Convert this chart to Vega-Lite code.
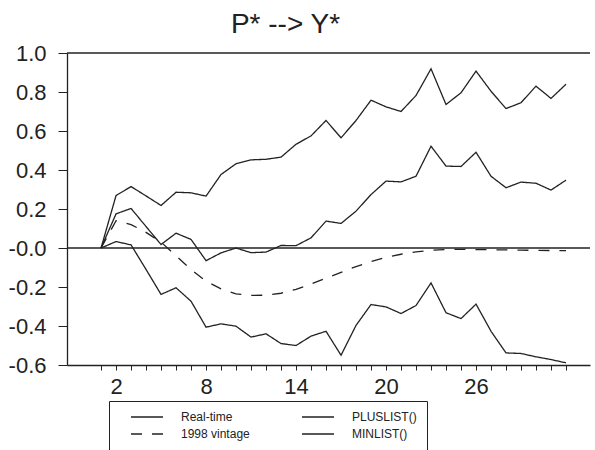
{
  "$schema": "https://vega.github.io/schema/vega-lite/v6.json",
  "width": 523,
  "height": 312,
  "autosize": {"type": "none"},
  "padding": {"left": 67, "top": 53, "right": 5, "bottom": 85},
  "background": "white",
  "title": {"text": "P* --> Y*", "fontSize": 28, "font": "Liberation Sans", "fontWeight": "normal", "color": "#222", "anchor": "middle", "dx": -43, "offset": 3},
  "config": {
    "view": {"stroke": null},
    "font": "Liberation Sans",
    "axisY": {"grid": false, "tickSize": 9, "tickColor": "#222", "domainColor": "#222", "domainWidth": 1.3,
      "labelFontSize": 22, "labelFont": "Liberation Sans", "labelColor": "#222", "labelPadding": 12, "labelOverlap": false, "labelFlush": false},
    "legend": {
      "orient": "none", "legendX": 42, "legendY": 348, "columns": 2, "columnPadding": 40, "rowPadding": 5, "padding": 10,
      "strokeColor": "#222", "fillColor": "white",
      "symbolType": "M-4,0H4", "symbolSize": 64, "symbolOffset": 22, "labelOffset": 28,
      "symbolStrokeColor": "#222", "symbolStrokeWidth": 1.3, "symbolFillColor": "transparent",
      "labelFont": "Liberation Sans", "labelFontSize": 12, "labelColor": "#222", "labelLimit": 300, "labelAlign": "left"
    }
  },
  "layer": [
    {
      "data": {"values": [{"ref": 0}, {"ref": 1}]},
      "mark": {"type": "rule", "color": "#222", "strokeWidth": 1.3},
      "encoding": {"y": {"field": "ref", "type": "quantitative", "scale": {"domain": [-0.6, 1.0], "nice": false, "zero": false},
        "axis": {"title": null, "values": [-0.6,-0.4,-0.2,0,0.2,0.4,0.6,0.8,1.0],
            "labelExpr": "datum.value == 0 ? '-0.0' : (datum.value < 0 ? '-' : '') + format(abs(datum.value), '.1f')"}}}
    },
    {
      "data": {"values": [
        {"t":1,"s":"Real-time","v":0},{"t":2,"s":"Real-time","v":0.175},{"t":3,"s":"Real-time","v":0.203},{"t":4,"s":"Real-time","v":0.11},{"t":5,"s":"Real-time","v":0.018},{"t":6,"s":"Real-time","v":0.076},{"t":7,"s":"Real-time","v":0.044},{"t":8,"s":"Real-time","v":-0.065},{"t":9,"s":"Real-time","v":-0.025},{"t":10,"s":"Real-time","v":0.0},{"t":11,"s":"Real-time","v":-0.024},{"t":12,"s":"Real-time","v":-0.021},{"t":13,"s":"Real-time","v":0.013},{"t":14,"s":"Real-time","v":0.012},{"t":15,"s":"Real-time","v":0.052},{"t":16,"s":"Real-time","v":0.138},{"t":17,"s":"Real-time","v":0.126},{"t":18,"s":"Real-time","v":0.189},{"t":19,"s":"Real-time","v":0.274},{"t":20,"s":"Real-time","v":0.343},{"t":21,"s":"Real-time","v":0.339},{"t":22,"s":"Real-time","v":0.368},{"t":23,"s":"Real-time","v":0.522},{"t":24,"s":"Real-time","v":0.42},{"t":25,"s":"Real-time","v":0.418},{"t":26,"s":"Real-time","v":0.491},{"t":27,"s":"Real-time","v":0.368},{"t":28,"s":"Real-time","v":0.309},{"t":29,"s":"Real-time","v":0.338},{"t":30,"s":"Real-time","v":0.332},{"t":31,"s":"Real-time","v":0.297},{"t":32,"s":"Real-time","v":0.348},
        {"t":1,"s":"PLUSLIST()","v":0},{"t":2,"s":"PLUSLIST()","v":0.269},{"t":3,"s":"PLUSLIST()","v":0.315},{"t":4,"s":"PLUSLIST()","v":0.267},{"t":5,"s":"PLUSLIST()","v":0.218},{"t":6,"s":"PLUSLIST()","v":0.286},{"t":7,"s":"PLUSLIST()","v":0.283},{"t":8,"s":"PLUSLIST()","v":0.266},{"t":9,"s":"PLUSLIST()","v":0.377},{"t":10,"s":"PLUSLIST()","v":0.432},{"t":11,"s":"PLUSLIST()","v":0.452},{"t":12,"s":"PLUSLIST()","v":0.455},{"t":13,"s":"PLUSLIST()","v":0.466},{"t":14,"s":"PLUSLIST()","v":0.532},{"t":15,"s":"PLUSLIST()","v":0.575},{"t":16,"s":"PLUSLIST()","v":0.654},{"t":17,"s":"PLUSLIST()","v":0.565},{"t":18,"s":"PLUSLIST()","v":0.654},{"t":19,"s":"PLUSLIST()","v":0.758},{"t":20,"s":"PLUSLIST()","v":0.724},{"t":21,"s":"PLUSLIST()","v":0.7},{"t":22,"s":"PLUSLIST()","v":0.782},{"t":23,"s":"PLUSLIST()","v":0.919},{"t":24,"s":"PLUSLIST()","v":0.736},{"t":25,"s":"PLUSLIST()","v":0.796},{"t":26,"s":"PLUSLIST()","v":0.907},{"t":27,"s":"PLUSLIST()","v":0.804},{"t":28,"s":"PLUSLIST()","v":0.715},{"t":29,"s":"PLUSLIST()","v":0.745},{"t":30,"s":"PLUSLIST()","v":0.83},{"t":31,"s":"PLUSLIST()","v":0.767},{"t":32,"s":"PLUSLIST()","v":0.84},
        {"t":1,"s":"1998 vintage","v":0},{"t":2,"s":"1998 vintage","v":0.14},{"t":3,"s":"1998 vintage","v":0.12},{"t":4,"s":"1998 vintage","v":0.08},{"t":5,"s":"1998 vintage","v":0.03},{"t":6,"s":"1998 vintage","v":-0.04},{"t":7,"s":"1998 vintage","v":-0.11},{"t":8,"s":"1998 vintage","v":-0.17},{"t":9,"s":"1998 vintage","v":-0.21},{"t":10,"s":"1998 vintage","v":-0.235},{"t":11,"s":"1998 vintage","v":-0.243},{"t":12,"s":"1998 vintage","v":-0.242},{"t":13,"s":"1998 vintage","v":-0.232},{"t":14,"s":"1998 vintage","v":-0.212},{"t":15,"s":"1998 vintage","v":-0.185},{"t":16,"s":"1998 vintage","v":-0.155},{"t":17,"s":"1998 vintage","v":-0.125},{"t":18,"s":"1998 vintage","v":-0.095},{"t":19,"s":"1998 vintage","v":-0.07},{"t":20,"s":"1998 vintage","v":-0.048},{"t":21,"s":"1998 vintage","v":-0.032},{"t":22,"s":"1998 vintage","v":-0.02},{"t":23,"s":"1998 vintage","v":-0.012},{"t":24,"s":"1998 vintage","v":-0.008},{"t":25,"s":"1998 vintage","v":-0.007},{"t":26,"s":"1998 vintage","v":-0.008},{"t":27,"s":"1998 vintage","v":-0.009},{"t":28,"s":"1998 vintage","v":-0.01},{"t":29,"s":"1998 vintage","v":-0.011},{"t":30,"s":"1998 vintage","v":-0.012},{"t":31,"s":"1998 vintage","v":-0.013},{"t":32,"s":"1998 vintage","v":-0.013},
        {"t":1,"s":"MINLIST()","v":0},{"t":2,"s":"MINLIST()","v":0.033},{"t":3,"s":"MINLIST()","v":0.016},{"t":4,"s":"MINLIST()","v":-0.11},{"t":5,"s":"MINLIST()","v":-0.238},{"t":6,"s":"MINLIST()","v":-0.204},{"t":7,"s":"MINLIST()","v":-0.273},{"t":8,"s":"MINLIST()","v":-0.406},{"t":9,"s":"MINLIST()","v":-0.389},{"t":10,"s":"MINLIST()","v":-0.401},{"t":11,"s":"MINLIST()","v":-0.457},{"t":12,"s":"MINLIST()","v":-0.44},{"t":13,"s":"MINLIST()","v":-0.49},{"t":14,"s":"MINLIST()","v":-0.5},{"t":15,"s":"MINLIST()","v":-0.452},{"t":16,"s":"MINLIST()","v":-0.427},{"t":17,"s":"MINLIST()","v":-0.55},{"t":18,"s":"MINLIST()","v":-0.397},{"t":19,"s":"MINLIST()","v":-0.29},{"t":20,"s":"MINLIST()","v":-0.302},{"t":21,"s":"MINLIST()","v":-0.336},{"t":22,"s":"MINLIST()","v":-0.295},{"t":23,"s":"MINLIST()","v":-0.179},{"t":24,"s":"MINLIST()","v":-0.332},{"t":25,"s":"MINLIST()","v":-0.362},{"t":26,"s":"MINLIST()","v":-0.288},{"t":27,"s":"MINLIST()","v":-0.427},{"t":28,"s":"MINLIST()","v":-0.538},{"t":29,"s":"MINLIST()","v":-0.541},{"t":30,"s":"MINLIST()","v":-0.558},{"t":31,"s":"MINLIST()","v":-0.572},{"t":32,"s":"MINLIST()","v":-0.589}
      ]},
      "mark": {"type": "line", "color": "#222", "strokeWidth": 1.3},
      "encoding": {
        "x": {"field": "t", "type": "quantitative", "scale": {"domain": [-1.27, 33.6], "nice": false, "zero": false},
          "axis": {"title": null, "values": [1,2,3,4,5,6,7,8,9,10,11,12,13,14,15,16,17,18,19,20,21,22,23,24,25,26,27,28,29,30,31,32],
            "labelExpr": "(datum.value - 2) % 6 == 0 && datum.value <= 26 ? datum.label : ''",
            "labelOverlap": false, "labelFlush": false, "grid": false, "tickSize": 5, "tickColor": "#222", "domainColor": "#222", "domainWidth": 1.3,
            "labelFontSize": 22, "labelFont": "Liberation Sans", "labelColor": "#222", "labelPadding": 6}},
        "y": {"field": "v", "type": "quantitative", "scale": {"domain": [-0.6, 1.0], "nice": false, "zero": false},
          "axis": {"title": null, "values": [-0.6,-0.4,-0.2,0,0.2,0.4,0.6,0.8,1.0],
            "labelExpr": "datum.value == 0 ? '-0.0' : (datum.value < 0 ? '-' : '') + format(abs(datum.value), '.1f')"}},
        "strokeDash": {"field": "s", "type": "nominal",
          "scale": {"domain": ["Real-time", "1998 vintage", "PLUSLIST()", "MINLIST()"], "range": [[1,0],[11,10],[1,0],[1,0]]},
          "legend": {"title": null}}
      }
    }
  ]
}
